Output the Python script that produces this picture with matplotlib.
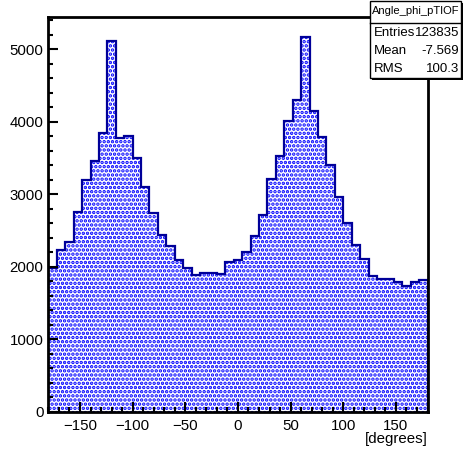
import numpy as np
import matplotlib
matplotlib.use("Agg")
import matplotlib.pyplot as plt
from matplotlib.patches import Rectangle
from matplotlib.ticker import MultipleLocator

plt.rcParams['font.family'] = ['Liberation Sans', 'DejaVu Sans']
plt.rcParams['hatch.linewidth'] = 1.7

# 45 bins of 8 degrees from -180 to 180
edges = np.arange(-180, 181, 8)
counts = [1980, 2225, 2340, 2750, 3200, 3465, 3840, 5115, 3780, 3805,
          3505, 3105, 2740, 2440, 2280, 2090, 1980, 1890, 1920, 1915,
          1895, 2060, 2090, 2200, 2420, 2710, 3210, 3530, 4015, 4300,
          5175, 4150, 3795, 3405, 2965, 2610, 2305, 2105, 1870, 1825,
          1835, 1795, 1730, 1790, 1820]
x_ticks = [-150, -100, -50, 0, 50, 100, 150]
y_ticks = [0, 1000, 2000, 3000, 4000, 5000]
stat_names = ["Entries", "Mean", "RMS"]
stat_vals = ["123835", "-7.569", "100.3"]
hist_name = "Angle_phi_pTIOF"

W, H = 463, 450
fig = plt.figure(figsize=(W / 100, H / 100), dpi=100)
ax = fig.add_axes([48.4 / W, 1 - 411.8 / H, (427.5 - 48.4) / W, (411.8 - 17.3) / H])

# dotted fill, then dark outline
ax.stairs(counts, edges, fill=True, facecolor='white', edgecolor='#0000ff',
          hatch='....', linewidth=0)
ax.stairs(counts, edges, color='#000099', linewidth=1.6)

ax.set_xlim(-180, 180)
ax.set_ylim(0, 5440)
ax.set_xticks(x_ticks)
ax.set_yticks(y_ticks)
ax.xaxis.set_minor_locator(MultipleLocator(10))
ax.yaxis.set_minor_locator(MultipleLocator(200))
ax.tick_params(which='both', direction='in', top=False, right=False,
               width=1.5, labelsize=10.8, colors='black')
ax.tick_params(which='major', length=7.5)
ax.tick_params(which='minor', length=3.8)
ax.tick_params(axis='y', pad=3.5)
ax.tick_params(axis='x', pad=5)
for s in ax.spines.values():
    s.set_linewidth(2)

fig.text(427.5 / W, 1 - 439 / H, "[degrees]", ha='right', va='center', fontsize=10.8)

# stats box (pixel coords converted to figure fraction)
def fx(px):
    return px / W

def fy(py):
    return 1 - py / H

bx0, bx1, by0, by1 = 370, 461, 1, 78
fig.patches.append(Rectangle((fx(bx0 + 2), fy(by1 + 2)), fx(bx1 - bx0), fy(by0) - fy(by1),
                             transform=fig.transFigure, facecolor='black', edgecolor='none', zorder=5))
fig.patches.append(Rectangle((fx(bx0), fy(by1)), fx(bx1 - bx0), fy(by0) - fy(by1),
                             transform=fig.transFigure, facecolor='white', edgecolor='black',
                             linewidth=1, zorder=6))
fig.lines.append(plt.Line2D([fx(bx0), fx(bx1)], [fy(22.5), fy(22.5)],
                            transform=fig.transFigure, color='black', linewidth=1, zorder=7))
fig.text(fx(372), fy(11.5), hist_name, ha='left', va='center', fontsize=8, zorder=8)
for i, (n, v) in enumerate(zip(stat_names, stat_vals)):
    yy = fy(33 + 18 * i)
    fig.text(fx(374), yy, n, ha='left', va='center', fontsize=9.5, zorder=8)
    fig.text(fx(459), yy, v, ha='right', va='center', fontsize=9.5, zorder=8)

fig.savefig("out.png", dpi=100)
